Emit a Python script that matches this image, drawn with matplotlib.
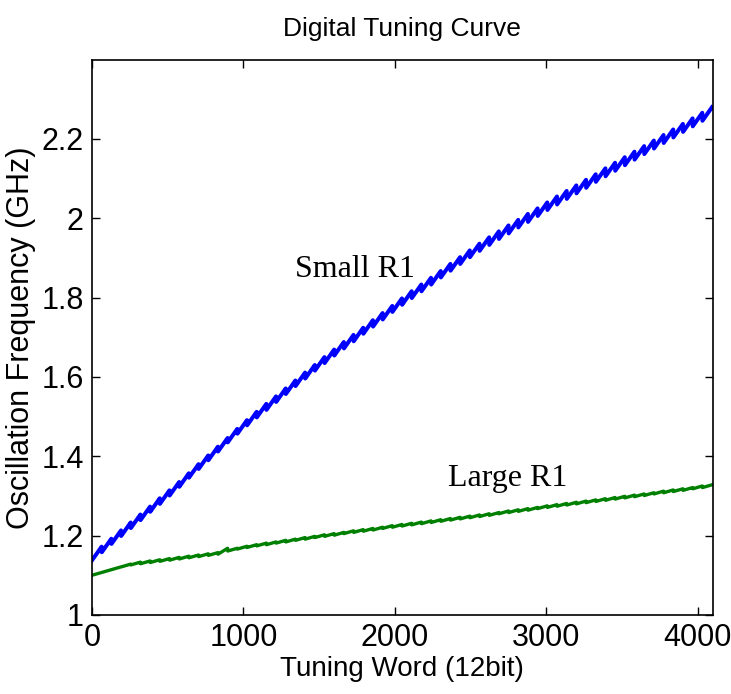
import numpy as np
import matplotlib.pyplot as plt
from matplotlib.ticker import FormatStrFormatter

# DCO tuning: 64 coarse segments of 64 fine codes each (12-bit word)
seg_len = 64
seg_start = np.arange(0, 4096, seg_len)

# Small R1: frequency (GHz) at the first and last code of every segment
small_r1_start = [
    1.138, 1.158, 1.179, 1.199, 1.219, 1.239, 1.260, 1.280,
    1.301, 1.323, 1.346, 1.368, 1.390, 1.412, 1.435, 1.457,
    1.478, 1.498, 1.517, 1.537, 1.557, 1.577, 1.596, 1.616,
    1.635, 1.654, 1.672, 1.690, 1.709, 1.727, 1.745, 1.764,
    1.782, 1.799, 1.816, 1.833, 1.851, 1.868, 1.885, 1.902,
    1.918, 1.933, 1.948, 1.962, 1.977, 1.991, 2.006, 2.021,
    2.035, 2.049, 2.063, 2.077, 2.092, 2.106, 2.120, 2.134,
    2.148, 2.162, 2.176, 2.190, 2.204, 2.218, 2.232, 2.246,
]
small_r1_end = [
    1.172, 1.192, 1.213, 1.233, 1.253, 1.273, 1.294, 1.314,
    1.335, 1.357, 1.380, 1.402, 1.424, 1.446, 1.469, 1.491,
    1.512, 1.532, 1.551, 1.571, 1.591, 1.611, 1.630, 1.650,
    1.669, 1.688, 1.706, 1.724, 1.743, 1.761, 1.779, 1.798,
    1.816, 1.833, 1.850, 1.867, 1.885, 1.902, 1.919, 1.936,
    1.952, 1.967, 1.982, 1.996, 2.011, 2.025, 2.040, 2.055,
    2.069, 2.083, 2.097, 2.111, 2.126, 2.140, 2.154, 2.168,
    2.182, 2.196, 2.210, 2.224, 2.238, 2.252, 2.266, 2.280,
]

# Large R1
large_r1_start = [
    1.100, 1.107, 1.114, 1.121, 1.126, 1.129, 1.132, 1.135,
    1.138, 1.141, 1.144, 1.147, 1.150, 1.153, 1.161, 1.166,
    1.170, 1.174, 1.177, 1.181, 1.184, 1.188, 1.191, 1.195,
    1.198, 1.201, 1.205, 1.208, 1.211, 1.214, 1.218, 1.221,
    1.224, 1.227, 1.230, 1.233, 1.236, 1.239, 1.242, 1.245,
    1.248, 1.251, 1.255, 1.258, 1.261, 1.264, 1.268, 1.271,
    1.274, 1.277, 1.280, 1.283, 1.286, 1.289, 1.292, 1.295,
    1.298, 1.301, 1.305, 1.308, 1.311, 1.314, 1.318, 1.321,
]
large_r1_end = [
    1.107, 1.114, 1.121, 1.128, 1.133, 1.136, 1.139, 1.142,
    1.145, 1.148, 1.151, 1.154, 1.157, 1.168, 1.168, 1.173,
    1.177, 1.181, 1.184, 1.188, 1.191, 1.195, 1.198, 1.202,
    1.205, 1.208, 1.212, 1.215, 1.218, 1.221, 1.225, 1.228,
    1.231, 1.234, 1.237, 1.240, 1.243, 1.246, 1.249, 1.252,
    1.255, 1.258, 1.262, 1.265, 1.268, 1.271, 1.275, 1.278,
    1.281, 1.284, 1.287, 1.290, 1.293, 1.296, 1.299, 1.302,
    1.305, 1.308, 1.312, 1.315, 1.318, 1.321, 1.325, 1.328,
]


def sawtooth(starts, ends):
    # each segment runs from its first code to its last, then steps to the next
    x = np.column_stack([seg_start, seg_start + seg_len - 1]).ravel()
    y = np.column_stack([starts, ends]).ravel()
    return x, y


plt.rcParams['font.family'] = ['Liberation Sans', 'DejaVu Sans']

fig = plt.figure(figsize=(7.31, 6.94), dpi=100)
ax = fig.add_axes([0.126, 0.114, 0.849, 0.8])

x, y = sawtooth(small_r1_start, small_r1_end)
ax.plot(x, y, color=(0, 0, 1), lw=2.9)
x, y = sawtooth(large_r1_start, large_r1_end)
ax.plot(x, y, color=(0, 0.5, 0), lw=2.4)

ax.text(1340, 1.87, 'Small R1', family='Liberation Serif', fontsize=23, va='center')
ax.text(2350, 1.345, 'Large R1', family='Liberation Serif', fontsize=23, va='center')

ax.set_xlim(0, 4100)
ax.set_ylim(1, 2.4)
ax.set_xticks([0, 1000, 2000, 3000, 4000])
ax.set_yticks([1, 1.2, 1.4, 1.6, 1.8, 2, 2.2])
ax.yaxis.set_major_formatter(FormatStrFormatter('%g'))
ax.tick_params(direction='in', length=6, width=1, top=True, right=True,
               labelsize=22, pad=6)
for s in ax.spines.values():
    s.set_linewidth(1.2)

ax.set_title('Digital Tuning Curve', fontsize=19, pad=17)
ax.set_xlabel('Tuning Word (12bit)', fontsize=20, labelpad=2)
ax.set_ylabel('Oscillation Frequency (GHz)', fontsize=22, labelpad=4)

fig.savefig('out.png', dpi=100)
